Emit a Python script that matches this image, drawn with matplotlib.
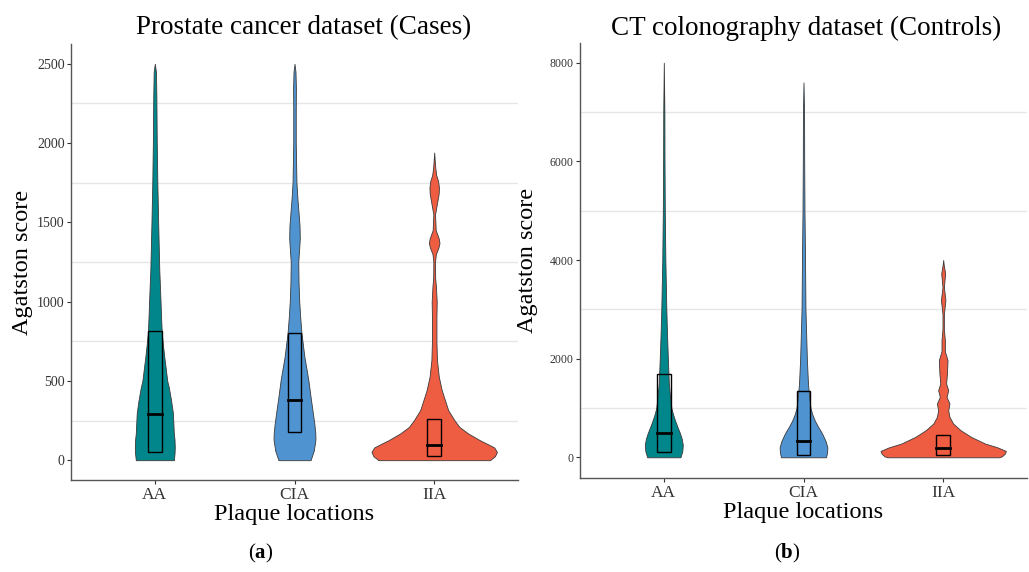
import numpy as np
import matplotlib
matplotlib.use('Agg')
import matplotlib.pyplot as plt
from matplotlib.ticker import MultipleLocator

plt.rcParams['font.family'] = ['Liberation Serif', 'DejaVu Serif']
plt.rcParams['mathtext.fontset'] = 'custom'
plt.rcParams['mathtext.rm'] = 'Liberation Serif'
plt.rcParams['mathtext.bf'] = 'Liberation Serif:bold'

categories = ['AA', 'CIA', 'IIA']
colors = ['#00868B', '#4F93D0', '#EE5C42']

# violin outlines: (score, half width in category units)
cases_profiles = [
    ([0, 40, 80, 130, 170, 230, 300, 380, 460, 500, 580, 650, 730, 800, 900, 1000, 1200, 1500,
      1750, 2000, 2300, 2450, 2500],
     [0.136, 0.141, 0.143, 0.141, 0.136, 0.133, 0.129, 0.116, 0.100, 0.089, 0.078, 0.068, 0.058,
      0.050, 0.045, 0.041, 0.032, 0.024, 0.018, 0.014, 0.011, 0.008, 0.0]),
    ([0, 60, 130, 170, 230, 300, 400, 500, 580, 650, 730, 800, 900, 1000, 1120, 1250, 1330, 1400,
      1480, 1550, 1650, 1750, 2000, 2200, 2350, 2450, 2500],
     [0.115, 0.138, 0.150, 0.149, 0.142, 0.131, 0.115, 0.100, 0.085, 0.071, 0.060, 0.050, 0.041,
      0.034, 0.029, 0.027, 0.033, 0.038, 0.036, 0.030, 0.021, 0.014, 0.009, 0.009, 0.010, 0.007, 0.0]),
    ([0, 8, 25, 52, 80, 105, 126, 168, 210, 252, 316, 379, 442, 526, 631, 750, 900, 1000, 1100,
      1150, 1250, 1300, 1340, 1370, 1400, 1450, 1550, 1620, 1680, 1720, 1760, 1800, 1850, 1940],
     [0.40, 0.41, 0.435, 0.449, 0.43, 0.375, 0.327, 0.244, 0.18, 0.145, 0.10, 0.077, 0.054,
      0.033, 0.020, 0.016, 0.016, 0.018, 0.012, 0.007, 0.006, 0.012, 0.030, 0.038, 0.032, 0.011,
      0.006, 0.020, 0.032, 0.034, 0.028, 0.014, 0.007, 0.0]),
]
controls_profiles = [
    ([0, 120, 250, 380, 500, 620, 750, 870, 1000, 1250, 1500, 2000, 2500, 3000, 4000, 5000, 6000,
      7000, 8000],
     [0.119, 0.132, 0.136, 0.128, 0.114, 0.097, 0.080, 0.066, 0.054, 0.044, 0.036, 0.029, 0.023,
      0.018, 0.011, 0.007, 0.005, 0.004, 0.0]),
    ([0, 100, 200, 330, 500, 620, 750, 870, 1000, 1250, 1500, 2000, 3000, 4000, 5000, 6000, 7000,
      7600],
     [0.161, 0.169, 0.171, 0.158, 0.130, 0.104, 0.080, 0.063, 0.050, 0.040, 0.032, 0.024, 0.014,
      0.011, 0.007, 0.005, 0.004, 0.0]),
    ([0, 20, 70, 128, 200, 278, 413, 548, 684, 818, 954, 1090, 1224, 1360, 1495, 1700, 1970,
      2150, 2376, 2600, 2900, 3188, 3450, 3730, 3900, 4000],
     [0.40, 0.42, 0.44, 0.449, 0.39, 0.30, 0.20, 0.125, 0.071, 0.045, 0.036, 0.045, 0.024,
      0.036, 0.021, 0.027, 0.031, 0.012, 0.012, 0.005, 0.005, 0.016, 0.005, 0.014, 0.004, 0.0]),
]

# boxes: lower hinge, median, upper hinge
cases_q1 = [50, 177, 27]
cases_med = [290, 379, 95]
cases_q3 = [815, 804, 257]
controls_q1 = [108, 55, 41]
controls_med = [494, 332, 190]
controls_q3 = [1685, 1347, 460]


def draw_panel(ax, profiles, q1, med, q3, ylim, major, minor, ytick_size, ylab_x):
    for grid_y in np.arange(minor, ylim[1], major):
        ax.axhline(grid_y, color='#e6e6e6', lw=1.0, zorder=0)
    for i, (ys, hw) in enumerate(profiles):
        ys = np.array(ys)
        hw = np.array(hw)
        x = i + 1
        ax.fill_betweenx(ys, x - hw, x + hw, facecolor=colors[i], edgecolor='#3a3a3a',
                         lw=0.6, zorder=2)
        bw = 0.05
        ax.add_patch(plt.Rectangle((x - bw, q1[i]), 2 * bw, q3[i] - q1[i], fill=False,
                                   edgecolor='black', lw=1.0, zorder=3))
        ax.plot([x - bw, x + bw], [med[i], med[i]], color='black', lw=2.0, zorder=4)
    ax.set_xlim(0.4, 3.6)
    ax.set_ylim(*ylim)
    ax.set_xticks([1, 2, 3])
    ax.set_xticklabels(categories, fontsize=12.5, color='#333333')
    ax.yaxis.set_major_locator(MultipleLocator(major))
    ax.tick_params(axis='y', labelsize=ytick_size, colors='#333333', length=3, width=0.8, pad=1.5)
    ax.tick_params(axis='x', colors='#333333', length=3, width=0.8, pad=2)
    for s in ['top', 'right']:
        ax.spines[s].set_visible(False)
    for s in ['left', 'bottom']:
        ax.spines[s].set_color('#555555')
        ax.spines[s].set_linewidth(1.0)
    ax.set_xlabel('Plaque locations', fontsize=17.5, labelpad=1)
    ax.set_ylabel('Agatston score', fontsize=17.5)
    ax.yaxis.set_label_coords(ylab_x, 0.5)


fig = plt.figure(figsize=(10.29, 5.72), dpi=100)
ax1 = fig.add_axes([71 / 1029, 92 / 572, 447 / 1029, 436 / 572])
ax2 = fig.add_axes([580 / 1029, 94 / 572, 447 / 1029, 435 / 572])

draw_panel(ax1, cases_profiles, cases_q1, cases_med, cases_q3, (-125, 2625), 500, 250, 10, -0.086)
draw_panel(ax2, controls_profiles, controls_q1, controls_med, controls_q3, (-420, 8400), 2000, 1000,
           8.5, -0.093)

fig.text(304 / 1029, 1 - 28 / 572, 'Prostate cancer dataset (Cases)', fontsize=19.5,
         ha='center', va='center')
fig.text(806 / 1029, 1 - 28 / 572, 'CT colonography dataset (Controls)', fontsize=19.5,
         ha='center', va='center')
fig.text(261 / 1029, 1 - 553 / 572, r'($\mathbf{a}$)', fontsize=15, ha='center', va='center')
fig.text(787 / 1029, 1 - 553 / 572, r'($\mathbf{b}$)', fontsize=15, ha='center', va='center')

fig.savefig('out.png', dpi=100)
